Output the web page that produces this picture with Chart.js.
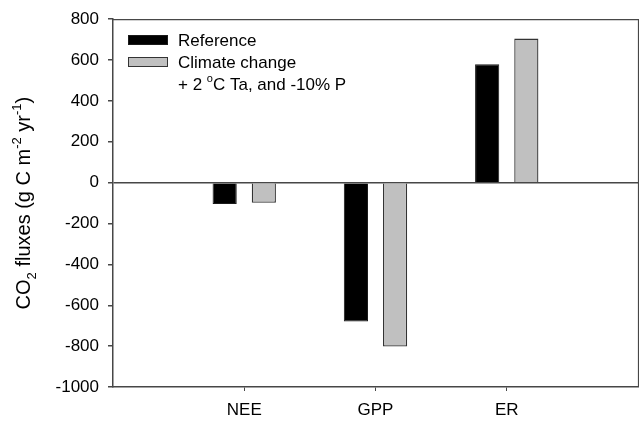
<!DOCTYPE html>
<html>
<head>
<meta charset="utf-8">
<script src="https://cdn.jsdelivr.net/npm/chart.js@4"></script>
<style>
  html, body { margin: 0; padding: 0; background: #fff; }
  #wrap { width: 639px; height: 422px; }
</style>
</head>
<body>
<div id="wrap"><canvas id="fluxChart"></canvas></div>
<script>
// chart values
const categories = ['NEE', 'GPP', 'ER'];
const referenceFlux = [-105, -680, 580];
const climateFlux = [-98, -802, 705];
const yTicks = [-1000, -800, -600, -400, -200, 0, 200, 400, 600, 800];

const FONT = "'Liberation Sans', Arial, sans-serif";
const AXIS = '#474747';

function toPoints(values) {
  return values.map((v, i) => ({ x: i + 1, y: v }));
}

// box on top/right + legend + y title with sub/superscripts
const decorPlugin = {
  id: 'decor',
  afterDatasetsDraw(chart) {
    const { ctx, chartArea } = chart;
    ctx.save();
    ctx.strokeStyle = AXIS;
    ctx.lineWidth = 1.2;
    ctx.beginPath();
    ctx.moveTo(chartArea.left, chartArea.top + 0.5);
    ctx.lineTo(chartArea.right + 0.5, chartArea.top + 0.5);
    ctx.lineTo(chartArea.right + 0.5, chartArea.bottom);
    ctx.stroke();
    ctx.restore();
  },
  afterDraw(chart) {
    const { ctx, chartArea } = chart;
    const ds = chart.data.datasets;

    // legend
    ctx.save();
    ctx.font = '17px ' + FONT;
    ctx.textBaseline = 'middle';
    ctx.fillStyle = '#000';
    const rows = [40, 62];
    ds.forEach((d, i) => {
      ctx.fillStyle = d.backgroundColor;
      ctx.fillRect(128, rows[i] - 5, 40, 10);
      ctx.strokeStyle = d.borderColor;
      ctx.lineWidth = 1;
      ctx.strokeRect(128.5, rows[i] - 4.5, 39, 9);
      ctx.fillStyle = '#000';
      ctx.fillText(d.label, 178, rows[i] + 1);
    });
    // third legend line
    let x = 178;
    const y3 = 85;
    ctx.fillText('+ 2 ', x, y3);
    x += ctx.measureText('+ 2 ').width;
    ctx.font = '11px ' + FONT;
    ctx.fillText('o', x, y3 - 6);
    x += ctx.measureText('o').width;
    ctx.font = '17px ' + FONT;
    ctx.fillText('C Ta, and -10% P', x, y3);
    ctx.restore();

    // y axis title
    const parts = [
      { t: 'CO', s: 20, dy: 0 },
      { t: '2', s: 13, dy: 6 },
      { t: ' fluxes (g C m', s: 20, dy: 0 },
      { t: '-2', s: 13, dy: -9 },
      { t: ' yr', s: 20, dy: 0 },
      { t: '-1', s: 13, dy: -9 },
      { t: ')', s: 20, dy: 0 }
    ];
    ctx.save();
    ctx.fillStyle = '#000';
    ctx.textBaseline = 'alphabetic';
    let total = 0;
    parts.forEach(p => {
      ctx.font = p.s + 'px ' + FONT;
      p.w = ctx.measureText(p.t).width;
      total += p.w;
    });
    ctx.translate(22, (chartArea.top + chartArea.bottom) / 2);
    ctx.rotate(-Math.PI / 2);
    let px = -total / 2;
    parts.forEach(p => {
      ctx.font = p.s + 'px ' + FONT;
      ctx.fillText(p.t, px, 8 + p.dy);
      px += p.w;
    });
    ctx.restore();
  }
};

new Chart(document.getElementById('fluxChart'), {
  type: 'bar',
  data: {
    datasets: [
      {
        label: 'Reference',
        data: toPoints(referenceFlux),
        backgroundColor: '#000000',
        borderColor: '#1a1a1a',
        borderWidth: 1
      },
      {
        label: 'Climate change',
        data: toPoints(climateFlux),
        backgroundColor: '#c0c0c0',
        borderColor: '#333333',
        borderWidth: 1.3
      }
    ]
  },
  options: {
    responsive: true,
    maintainAspectRatio: false,
    animation: false,
    categoryPercentage: 0.597,
    barPercentage: 0.617,
    layout: { padding: { top: 19, right: 1, left: 0, bottom: 0 } },
    plugins: {
      legend: { display: false },
      tooltip: { enabled: false }
    },
    scales: {
      x: {
        type: 'linear',
        min: 0,
        max: 4,
        offset: false,
        afterBuildTicks: scale => {
          scale.ticks = categories.map((c, i) => ({ value: i + 1 }));
        },
        afterFit: scale => { scale.height = 35; },
        ticks: {
          callback: v => categories[v - 1] || '',
          font: { family: FONT, size: 17 },
          color: '#000',
          padding: 9,
          maxRotation: 0
        },
        grid: { offset: false, drawOnChartArea: false, tickLength: 4, color: AXIS, lineWidth: 1 },
        border: { color: AXIS, width: 1.5 }
      },
      y: {
        min: -1000,
        max: 800,
        afterBuildTicks: scale => {
          scale.ticks = yTicks.map(v => ({ value: v }));
        },
        afterFit: scale => { scale.width = 113; },
        ticks: {
          callback: v => String(v),
          font: { family: FONT, size: 17 },
          color: '#000',
          padding: 9
        },
        grid: {
          color: c => (c.tick && c.tick.value === 0 ? AXIS : 'rgba(0,0,0,0)'),
          tickColor: AXIS,
          lineWidth: 1.5,
          tickLength: 5
        },
        border: { color: AXIS, width: 1.5 }
      }
    }
  },
  plugins: [decorPlugin]
});
</script>
</body>
</html>
